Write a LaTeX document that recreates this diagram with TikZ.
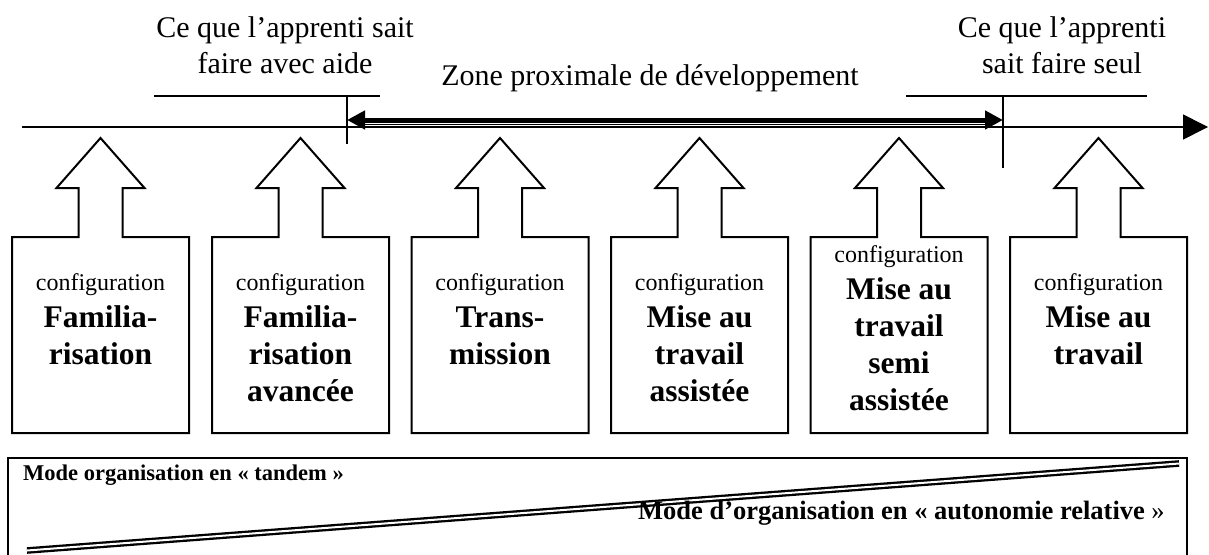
\documentclass[tikz,border=0pt]{standalone}
\usepackage{fontspec}
\setmainfont{Liberation Serif}
\usetikzlibrary{arrows.meta}
\newcommand\cfgshape[1]{%
  \draw[boxline] ({#1-88.5},433) -- ({#1-88.5},237) -- ({#1-22},237) -- ({#1-22},188)
    -- ({#1-44},188) -- (#1,138) -- ({#1+44},188) -- ({#1+22},188) -- ({#1+22},237)
    -- ({#1+88.5},237) -- ({#1+88.5},433) -- cycle;}
\tikzset{
  boxline/.style={line width=2pt, line join=miter},
  thinline/.style={line width=1.6pt},
  axisline/.style={line width=1.6pt, -{Triangle[length=25pt,width=25pt]}},
  zpdline/.style={line width=5pt, {Triangle[length=18pt,width=18pt]}-{Triangle[length=18pt,width=18pt]}},
  toptext/.style={align=center, inner sep=0pt, font=\fontsize{30}{36}\selectfont},
  cfgtext/.style={anchor=north, align=center, inner sep=0pt, font=\fontsize{31.5}{37}\selectfont\bfseries},
  modetext/.style={anchor=west, inner sep=0pt, font=\bfseries},
  dblline/.style={double, line width=2.3pt, double distance=2pt}
}
\newcommand\cfgword{{\mdseries\fontsize{24}{37}\selectfont configuration}}
\begin{document}
\begin{tikzpicture}[x=1pt,y=-1pt]
\useasboundingbox (0,0) rectangle (1209,554);
% top texts
\node[toptext] (aide) at (285,45) {Ce que l’apprenti sait\\faire avec aide};
\node[toptext] (seul) at (1062,45) {Ce que l’apprenti\\sait faire seul};
\node[toptext] (zpd) at (650,78) {Zone proximale de développement};
% bracket lines
\coordinate (ul0) at (154,96); \coordinate (ul1) at (380,96);
\coordinate (ur0) at (906,96); \coordinate (ur1) at (1147,96);
\coordinate (tl0) at (347,96); \coordinate (tl1) at (347,144);
\coordinate (tr0) at (1003,96); \coordinate (tr1) at (1003,168);
\draw[thinline] (ul0) -- (ul1);
\draw[thinline] (ur0) -- (ur1);
\draw[thinline] (tl0) -- (tl1);
\draw[thinline] (tr0) -- (tr1);
% axis
\coordinate (ax0) at (22,127); \coordinate (ax1) at (1208,127);
\draw[axisline] (ax0) -- (ax1);
% zone arrow
\coordinate (z0) at (347,120); \coordinate (z1) at (1003,120);
\coordinate (zt0) at (362,124.5); \coordinate (zt1) at (988,124.5);
\draw[zpdline] (z0) -- (z1);
\draw[line width=1.2pt] (zt0) -- (zt1);
% configuration shapes
\cfgshape{100.5}
\cfgshape{300.5}
\cfgshape{500}
\cfgshape{699.5}
\cfgshape{899}
\cfgshape{1098.5}
\node[cfgtext] (c1) at (100.5,273) {\cfgword\\Familia-\\risation};
\node[cfgtext] (c2) at (300.5,273) {\cfgword\\Familia-\\risation\\avancée};
\node[cfgtext] (c3) at (500,273) {\cfgword\\Trans-\\mission};
\node[cfgtext] (c4) at (699.5,273) {\cfgword\\Mise au\\travail\\assistée};
\node[cfgtext] (c5) at (899,245) {\cfgword\\Mise au\\travail\\semi\\assistée};
\node[cfgtext] (c6) at (1098.5,273) {\cfgword\\Mise au\\travail};
% bottom box
\draw[boxline] (8,458) rectangle (1187,560);
\coordinate (d0) at (27,550.5); \coordinate (d1) at (1179,463.5);
\draw[dblline] (d0) -- (d1);
\node[modetext, font=\fontsize{22.5}{27}\selectfont\bfseries] (tandem) at (23,475) {Mode organisation en « tandem »};
\node[modetext, font=\fontsize{26.5}{30}\selectfont\bfseries] (auto) at (638,513) {Mode d’organisation en « autonomie relative {\mdseries »}};
\end{tikzpicture}
\end{document}
